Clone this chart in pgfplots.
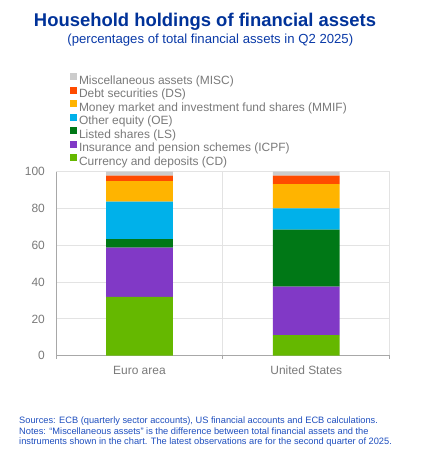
\documentclass[border=0pt]{standalone}
\usepackage{fontspec}
\setmainfont{Liberation Sans}
\usepackage{pgfplots}
\pgfplotsset{compat=1.18}
\usepackage{pgfplotstable}
\definecolor{ecbblue}{HTML}{003299}
\definecolor{subblue}{HTML}{0A3AA8}
\definecolor{noteblue}{HTML}{1F4FBF}
\definecolor{txtgray}{HTML}{7A7A7A}
\definecolor{axgray}{HTML}{A8A8A8}
\definecolor{grdgray}{HTML}{E3E3E3}
\definecolor{cCD}{HTML}{65B800}
\definecolor{cICPF}{HTML}{8139C6}
\definecolor{cLS}{HTML}{007816}
\definecolor{cOE}{HTML}{00B1EA}
\definecolor{cMMIF}{HTML}{FFB400}
\definecolor{cDS}{HTML}{FF4B00}
\definecolor{cMISC}{HTML}{CCCCCC}
\pgfplotstableread{
x CD ICPF LS OE MMIF DS MISC
0 31.9 26.8 4.6 20.4 11.2 2.9 2.2
1 11.2 26.3 31.0 11.6 13.2 4.5 2.2
}\data
\begin{document}
\begin{tikzpicture}[x=1bp,y=1bp]
\path[use as bounding box, fill=white] (0,0) rectangle (427,460);
\node[font=\fontsize{18.5}{22}\selectfont\bfseries, text=ecbblue, anchor=base, inner sep=0pt] at (205,433.4) {Household holdings of financial assets};
\node[font=\fontsize{13.2}{16}\selectfont, text=subblue, anchor=base, inner sep=0pt] at (210.3,416.3) {(percentages of total financial assets in Q2 2025)};
\begin{axis}[
  at={(56bp,104.3bp)}, anchor=south west,
  scale only axis, width=333.7bp, height=184bp,
  ybar stacked, bar width=0.4,
  xmin=-0.5, xmax=1.5, ymin=0, ymax=100,
  ytick={0,20,40,60,80,100},
  xtick={-0.5,0.5,1.5}, xticklabels={},
  extra x ticks={0,1},
  extra x tick labels={Euro area,United States},
  extra x tick style={grid=none, major tick length=0pt, xticklabel style={yshift=-10bp}},
  ymajorgrids, xmajorgrids,
  grid style={draw=grdgray, line width=0.8bp},
  axis x line*=bottom, axis y line*=left,
  axis line style={-, draw=axgray, line width=0.8bp},
  x tick style={draw=axgray, line width=0.8bp},
  y tick style={draw=none},
  tick align=outside,
  major tick length=3bp,
  ticklabel style={font=\fontsize{12}{14}\selectfont, text=txtgray, inner sep=0pt},
  yticklabel style={xshift=-8bp},
  /pgf/number format/assume math mode=true,
  reverse legend,
  legend cell align=left,
  legend image code/.code={\fill[#1] (0bp,0.8bp) rectangle (7bp,7.8bp);},
  legend style={at={(0.042,1.534)}, anchor=north west, draw=none, fill=none,
    inner sep=0pt, outer sep=0pt, row sep=0.07bp, column sep=2bp,
    font=\fontsize{12}{14}\selectfont, text=txtgray,
    nodes={inner sep=0pt, text height=8.6bp, text depth=2.6bp}},
]
\addplot[fill=cCD, draw=none] table[x=x,y=CD]{\data};
\addlegendentry{Currency and deposits (CD)}
\addplot[fill=cICPF, draw=none] table[x=x,y=ICPF]{\data};
\addlegendentry{Insurance and pension schemes (ICPF)}
\addplot[fill=cLS, draw=none] table[x=x,y=LS]{\data};
\addlegendentry{Listed shares (LS)}
\addplot[fill=cOE, draw=none] table[x=x,y=OE]{\data};
\addlegendentry{Other equity (OE)}
\addplot[fill=cMMIF, draw=none] table[x=x,y=MMIF]{\data};
\addlegendentry{Money market and investment fund shares (MMIF)}
\addplot[fill=cDS, draw=none] table[x=x,y=DS]{\data};
\addlegendentry{Debt securities (DS)}
\addplot[fill=cMISC, draw=none] table[x=x,y=MISC]{\data};
\addlegendentry{Miscellaneous assets (MISC)}
\end{axis}
\node[font=\fontsize{9.3}{10}\selectfont, text=noteblue, anchor=base west, inner sep=0pt] at (19,36.8) {Sources: ECB (quarterly sector accounts), US financial accounts and ECB calculations.};
\node[font=\fontsize{9.3}{10}\selectfont, text=noteblue, anchor=base west, inner sep=0pt] at (19,25.8) {Notes: “Miscellaneous assets” is the difference between total financial assets and the};
\node[font=\fontsize{9.3}{10}\selectfont, text=noteblue, anchor=base west, inner sep=0pt] at (19,15.8) {instruments shown in the chart. The latest observations are for the second quarter of 2025.};
\end{tikzpicture}
\end{document}
